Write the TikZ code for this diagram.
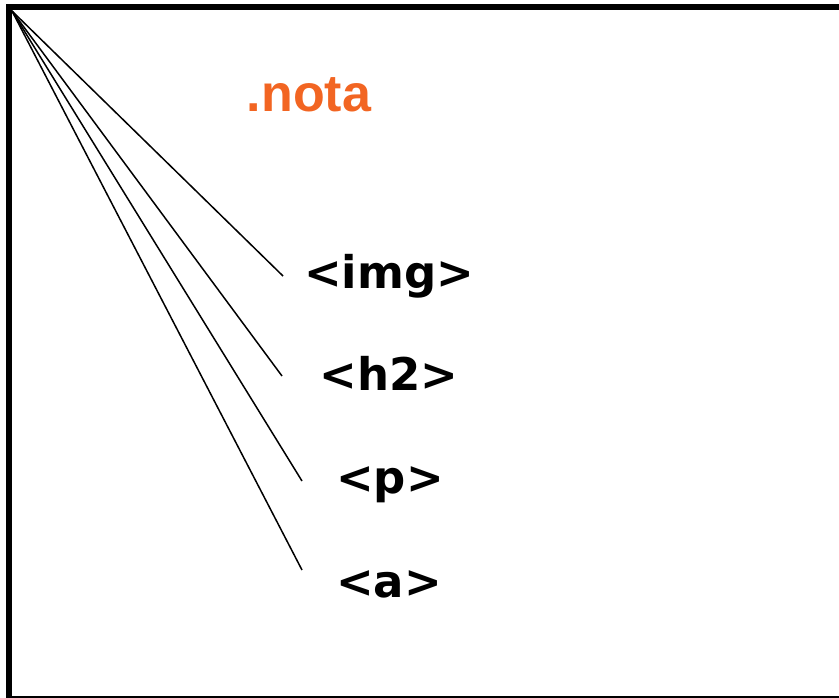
\documentclass[tikz,border=0pt]{standalone}
\usepackage{fontspec}
\setmainfont{DejaVu Sans}
\newfontfamily\arialfont{Liberation Sans}
\definecolor{notaorange}{RGB}{242,101,34}
\begin{document}
\begin{tikzpicture}[x=1pt,y=-1pt,
  tagtext/.style={font=\fontsize{45}{50}\selectfont\bfseries, inner sep=0pt, anchor=base},
  conn/.style={line width=1.5pt, black}]
\useasboundingbox (0,0) rectangle (839,697);
\begin{scope}
\clip (0,0) rectangle (839,697);
\draw[line width=6pt] (8.5,7) rectangle (860,698.5);
\end{scope}
\node[font=\arialfont\fontsize{52}{58}\selectfont\bfseries, text=notaorange, inner sep=0pt, anchor=base] (nota) at (309,111) {.nota};
\node[tagtext] (img) at (389,288) {<img>};
\node[tagtext] (h2) at (389,390) {<h2>};
\node[tagtext] (p) at (390,493) {<p>};
\node[tagtext] (a) at (389,597) {<a>};
\coordinate (src) at (12,11);
\coordinate (eimg) at (283,276);
\coordinate (eh2) at (282,376);
\coordinate (ep) at (302,481);
\coordinate (ea) at (302,570);
\draw[conn] (src) -- (eimg);
\draw[conn] (src) -- (eh2);
\draw[conn] (src) -- (ep);
\draw[conn] (src) -- (ea);
\end{tikzpicture}
\end{document}
